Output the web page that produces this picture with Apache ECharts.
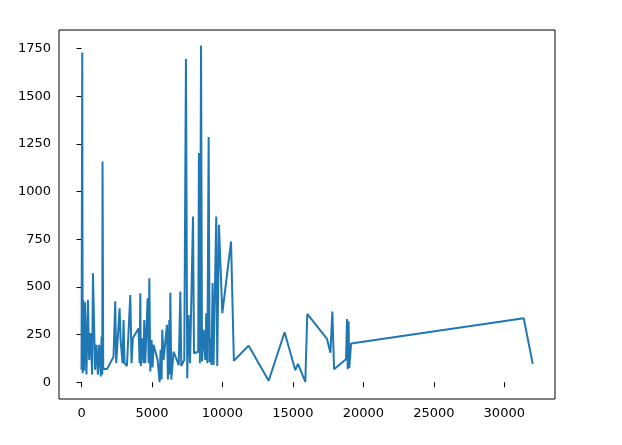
<!DOCTYPE html>
<html>
<head>
<meta charset="utf-8">
<script src="https://cdn.jsdelivr.net/npm/echarts@6/dist/echarts.min.js"></script>
<style>
  html, body { margin: 0; padding: 0; background: #fff; }
  #chart { width: 622px; height: 445px; }
</style>
</head>
<body>
<div id="chart"></div>
<script>
// values
const xValues = [
  0, 50, 80, 120, 180, 240, 350, 450, 540, 640, 750, 810, 860, 960, 1060, 1160,
  1250, 1370, 1420, 1470, 1490, 1540, 1820, 2270, 2390, 2460, 2700, 2770, 2910,
  2980, 3050, 3220, 3460, 3550, 3640, 4050, 4120, 4170, 4210, 4310, 4400, 4450,
  4520, 4690, 4760, 4810, 4880, 4970, 5040, 5110, 5400, 5540, 5610, 5680, 5730,
  5820, 5900, 6060, 6130, 6230, 6270, 6300, 6370, 6530, 6650, 6900, 7010, 7080,
  7290, 7410, 7500, 7600, 7700, 7910, 7980, 8280, 8330, 8400, 8480, 8550, 8660,
  8780, 8850, 8930, 9020, 9090, 9160, 9220, 9300, 9370, 9480, 9560, 9630, 9750,
  9990, 10610, 10810, 11860, 13280, 14410, 15170, 15360, 15880, 16020, 17420,
  17660, 17800, 17920, 18770, 18840, 18890, 18950, 19000, 19130, 31380, 32020
]
const yValues = [
  65, 1730, 47, 432, 60, 420, 40, 432, 117, 258, 40, 572, 572, 65, 196, 40,
  196, 30, 240, 40, 1158, 70, 70, 134, 425, 100, 388, 222, 100,
  327, 100, 85, 458, 100, 231, 283, 100, 467, 85, 231, 100, 327,
  100, 441, 100, 546, 56, 222, 78, 196, 117, 0, 170, 14, 275,
  117, 117, 301, 14, 327, 40, 470, 14, 160, 160, 90, 476, 85,
  117, 1696, 21, 353, 100, 869, 152, 160, 1202, 100, 1767, 110, 275,
  117, 362, 100, 1286, 105, 230, 90, 520, 90, 80, 869, 85, 826,
  362, 738, 113, 192, 8, 262, 63, 96, 2, 358, 227,
  155, 371, 68, 121, 332, 68, 320, 75, 203, 336, 96
]
const xTicks = [0, 5000, 10000, 15000, 20000, 25000, 30000]
const yTicks = [0, 250, 500, 750, 1000, 1250, 1500, 1750]

const points = xValues.map((x, i) => [x, yValues[i]])

const chart = echarts.init(document.getElementById('chart'))

const labelStyle = {
  color: '#000',
  fontFamily: 'DejaVu Sans',
  fontSize: 13,
  formatter: (v) => String(v)
}

const option = {
  animation: false,
  grid: {
    left: 59,
    right: 67,
    top: 30,
    bottom: 46,
    show: true,
    borderColor: '#000',
    borderWidth: 1,
    backgroundColor: '#fff'
  },
  xAxis: {
    type: 'value',
    min: -1600,
    max: 33600,
    splitLine: { show: false },
    axisLine: { show: false },
    axisTick: {
      show: true,
      length: 5,
      customValues: xTicks,
      lineStyle: { color: '#000', width: 1 }
    },
    axisLabel: {
      ...labelStyle,
      margin: 8,
      customValues: xTicks
    }
  },
  yAxis: {
    type: 'value',
    min: -88,
    max: 1848,
    splitLine: { show: false },
    axisLine: { show: false },
    axisTick: {
      show: true,
      length: 5,
      customValues: yTicks,
      lineStyle: { color: '#000', width: 1 }
    },
    axisLabel: {
      ...labelStyle,
      margin: 8,
      customValues: yTicks
    }
  },
  series: [
    {
      type: 'line',
      data: points,
      showSymbol: false,
      symbol: 'none',
      lineStyle: { color: '#1f77b4', width: 2 }
    }
  ]
}

chart.setOption(option)
</script>
</body>
</html>
